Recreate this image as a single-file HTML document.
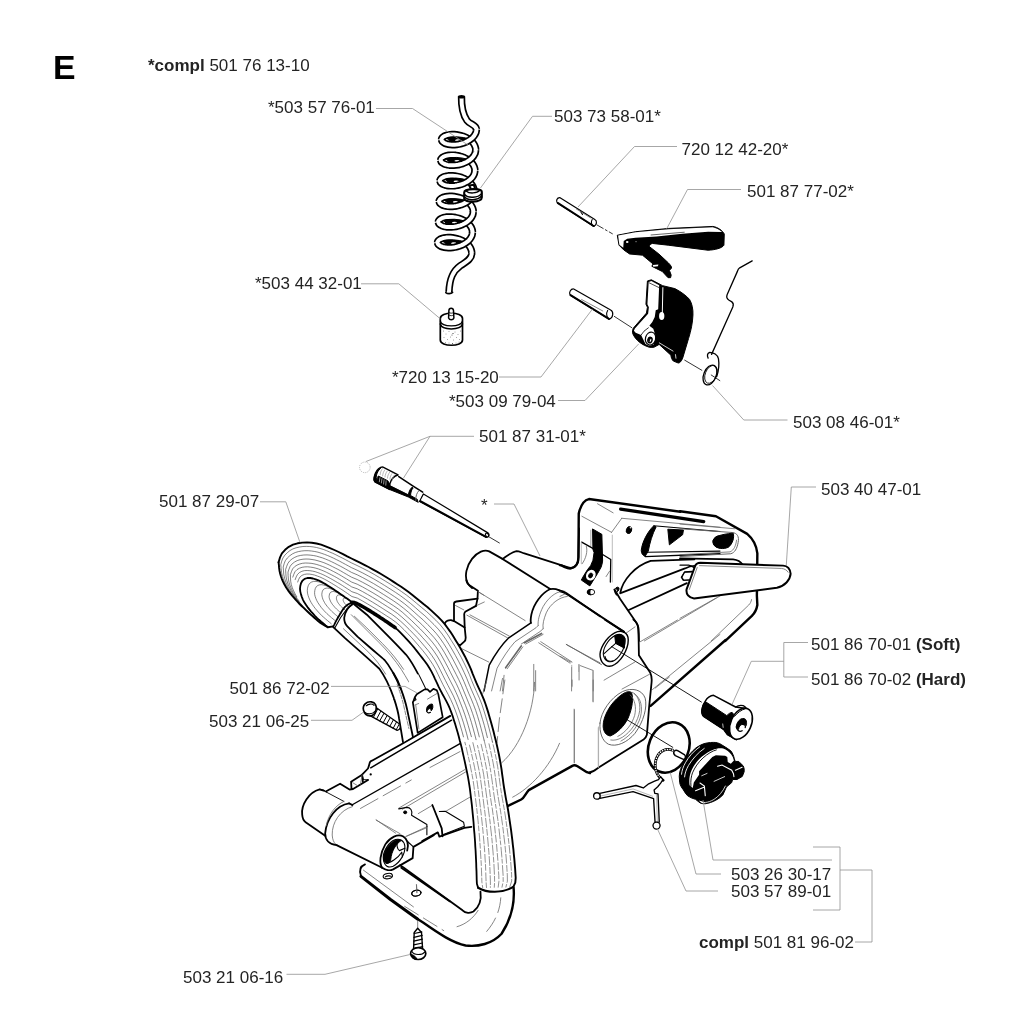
<!DOCTYPE html>
<html><head><meta charset="utf-8"><title>E</title>
<style>
html,body{margin:0;padding:0;background:#fff;}
body{width:1024px;height:1032px;overflow:hidden;position:relative;font-family:"Liberation Sans",sans-serif;}
svg{position:absolute;left:0;top:0;}
text{font-family:"Liberation Sans",sans-serif;font-size:17px;fill:#242424;}
.b{font-weight:bold;}
.ld{fill:none;stroke:#909090;stroke-width:0.8;}
path,ellipse,circle,line,polyline,polygon{vector-effect:non-scaling-stroke;}
.k{fill:none;stroke:#000;stroke-width:1.8;stroke-linecap:round;stroke-linejoin:round;}
.k1{fill:none;stroke:#000;stroke-width:1.1;stroke-linecap:round;stroke-linejoin:round;}
.t{fill:none;stroke:#666;stroke-width:0.8;stroke-linecap:round;stroke-linejoin:round;}
.f{fill:#000;stroke:#000;stroke-width:1;stroke-linejoin:round;}
.w{fill:#fff;stroke:#000;stroke-width:2;stroke-linejoin:round;stroke-linecap:round;}
.co{fill:none;stroke:#000;stroke-width:7.4;stroke-linecap:butt;stroke-linejoin:round;}
.ci{fill:none;stroke:#fff;stroke-width:4;stroke-linecap:round;stroke-linejoin:round;}
.rb{fill:none;stroke:#333;stroke-width:0.62;stroke-linecap:round;}
.w1{fill:#fff;stroke:#000;stroke-width:1.2;stroke-linejoin:round;stroke-linecap:round;}
</style></head><body>
<svg width="1024" height="1032" viewBox="0 0 1024 1032">
<!-- LABELS -->
<g id="labels" style="filter:grayscale(1)">
<text x="53" y="79.3" class="b" style="font-size:33.8px;fill:#000">E</text>
<text x="148" y="71"><tspan class="b">*compl</tspan> 501 76 13-10</text>
<text x="268" y="113">*503 57 76-01</text>
<text x="554" y="122">503 73 58-01*</text>
<text x="681.5" y="154.5">720 12 42-20*</text>
<text x="747" y="197">501 87 77-02*</text>
<text x="255" y="289">*503 44 32-01</text>
<text x="392" y="383">*720 13 15-20</text>
<text x="449" y="407">*503 09 79-04</text>
<text x="793" y="428">503 08 46-01*</text>
<text x="479" y="442">501 87 31-01*</text>
<text x="821" y="494.5">503 40 47-01</text>
<text x="159" y="507">501 87 29-07</text>
<text x="481" y="511">*</text>
<text x="811" y="650">501 86 70-01 <tspan class="b">(Soft)</tspan></text>
<text x="811" y="685">501 86 70-02 <tspan class="b">(Hard)</tspan></text>
<text x="229.5" y="693.5">501 86 72-02</text>
<text x="209" y="727">503 21 06-25</text>
<text x="731" y="880">503 26 30-17</text>
<text x="731" y="897">503 57 89-01</text>
<text x="699" y="948"><tspan class="b">compl</tspan> 501 81 96-02</text>
<text x="183" y="983">503 21 06-16</text>
</g>
<!-- PARTS -->
<g id="parts">
<g id="coil">
<path class="co" d="M441.5 139.6 L441.6 138.8 L442.1 137.9 L442.8 137.2 L443.8 136.5 L445.0 135.8 L446.5 135.3 L448.2 134.9 L450.0 134.6 L452.0 134.5 L454.2 134.5 L456.4 134.7 L458.6 135.1 L460.8 135.6 L463.0 136.2 L465.2 137.1 L467.2 138.1 L469.0 139.2 L470.7 140.5 L472.2 141.8 L473.4 143.3 L474.4 144.9 L475.1 146.5 L475.6 148.2 L475.7 149.9"/>
<path class="ci" d="M441.5 139.6 L441.6 138.8 L442.1 137.9 L442.8 137.2 L443.8 136.5 L445.0 135.8 L446.5 135.3 L448.2 134.9 L450.0 134.6 L452.0 134.5 L454.2 134.5 L456.4 134.7 L458.6 135.1 L460.8 135.6 L463.0 136.2 L465.2 137.1 L467.2 138.1 L469.0 139.2 L470.7 140.5 L472.2 141.8 L473.4 143.3 L474.4 144.9 L475.1 146.5 L475.6 148.2 L475.7 149.9"/>
<path class="co" d="M440.7 160.2 L440.8 159.4 L441.3 158.5 L442.0 157.8 L443.0 157.1 L444.2 156.4 L445.7 155.9 L447.4 155.5 L449.2 155.2 L451.2 155.1 L453.4 155.1 L455.6 155.3 L457.8 155.7 L460.0 156.2 L462.2 156.8 L464.4 157.7 L466.4 158.7 L468.2 159.8 L469.9 161.1 L471.4 162.4 L472.6 163.9 L473.6 165.5 L474.3 167.1 L474.8 168.8 L474.9 170.5"/>
<path class="ci" d="M440.7 160.2 L440.8 159.4 L441.3 158.5 L442.0 157.8 L443.0 157.1 L444.2 156.4 L445.7 155.9 L447.4 155.5 L449.2 155.2 L451.2 155.1 L453.4 155.1 L455.6 155.3 L457.8 155.7 L460.0 156.2 L462.2 156.8 L464.4 157.7 L466.4 158.7 L468.2 159.8 L469.9 161.1 L471.4 162.4 L472.6 163.9 L473.6 165.5 L474.3 167.1 L474.8 168.8 L474.9 170.5"/>
<path class="co" d="M439.9 180.8 L440.0 180.0 L440.5 179.1 L441.2 178.4 L442.2 177.7 L443.4 177.0 L444.9 176.5 L446.6 176.1 L448.4 175.8 L450.4 175.7 L452.6 175.7 L454.8 175.9 L457.0 176.3 L459.2 176.8 L461.4 177.4 L463.6 178.3 L465.6 179.3 L467.4 180.4 L469.1 181.7 L470.6 183.0 L471.8 184.5 L472.8 186.1 L473.5 187.7 L474.0 189.4 L474.1 191.1"/>
<path class="ci" d="M439.9 180.8 L440.0 180.0 L440.5 179.1 L441.2 178.4 L442.2 177.7 L443.4 177.0 L444.9 176.5 L446.6 176.1 L448.4 175.8 L450.4 175.7 L452.6 175.7 L454.8 175.9 L457.0 176.3 L459.2 176.8 L461.4 177.4 L463.6 178.3 L465.6 179.3 L467.4 180.4 L469.1 181.7 L470.6 183.0 L471.8 184.5 L472.8 186.1 L473.5 187.7 L474.0 189.4 L474.1 191.1"/>
<path class="co" d="M439.1 201.4 L439.2 200.6 L439.7 199.7 L440.4 199.0 L441.4 198.3 L442.6 197.6 L444.1 197.1 L445.8 196.7 L447.6 196.4 L449.6 196.3 L451.8 196.3 L454.0 196.5 L456.2 196.9 L458.4 197.4 L460.6 198.0 L462.8 198.9 L464.8 199.9 L466.6 201.0 L468.3 202.3 L469.8 203.6 L471.0 205.1 L472.0 206.7 L472.7 208.3 L473.2 210.0 L473.3 211.7"/>
<path class="ci" d="M439.1 201.4 L439.2 200.6 L439.7 199.7 L440.4 199.0 L441.4 198.3 L442.6 197.6 L444.1 197.1 L445.8 196.7 L447.6 196.4 L449.6 196.3 L451.8 196.3 L454.0 196.5 L456.2 196.9 L458.4 197.4 L460.6 198.0 L462.8 198.9 L464.8 199.9 L466.6 201.0 L468.3 202.3 L469.8 203.6 L471.0 205.1 L472.0 206.7 L472.7 208.3 L473.2 210.0 L473.3 211.7"/>
<path class="co" d="M438.3 222.0 L438.4 221.2 L438.9 220.3 L439.6 219.6 L440.6 218.9 L441.8 218.2 L443.3 217.7 L445.0 217.3 L446.8 217.0 L448.8 216.9 L451.0 216.9 L453.2 217.1 L455.4 217.5 L457.6 218.0 L459.8 218.6 L462.0 219.5 L464.0 220.5 L465.8 221.6 L467.5 222.9 L469.0 224.2 L470.2 225.7 L471.2 227.3 L471.9 228.9 L472.4 230.6 L472.5 232.3"/>
<path class="ci" d="M438.3 222.0 L438.4 221.2 L438.9 220.3 L439.6 219.6 L440.6 218.9 L441.8 218.2 L443.3 217.7 L445.0 217.3 L446.8 217.0 L448.8 216.9 L451.0 216.9 L453.2 217.1 L455.4 217.5 L457.6 218.0 L459.8 218.6 L462.0 219.5 L464.0 220.5 L465.8 221.6 L467.5 222.9 L469.0 224.2 L470.2 225.7 L471.2 227.3 L471.9 228.9 L472.4 230.6 L472.5 232.3"/>
<path class="co" d="M437.5 242.6 L437.6 241.8 L438.1 240.9 L438.8 240.2 L439.8 239.5 L441.0 238.8 L442.5 238.3 L444.2 237.9 L446.0 237.6 L448.0 237.5 L450.2 237.5 L452.4 237.7 L454.6 238.1 L456.8 238.6 L459.0 239.2 L461.2 240.1 L463.2 241.1 L465.0 242.2 L466.7 243.5 L468.2 244.8 L469.4 246.3 L470.4 247.9 L471.1 249.5 L471.6 251.2 L471.7 252.9"/>
<path class="ci" d="M437.5 242.6 L437.6 241.8 L438.1 240.9 L438.8 240.2 L439.8 239.5 L441.0 238.8 L442.5 238.3 L444.2 237.9 L446.0 237.6 L448.0 237.5 L450.2 237.5 L452.4 237.7 L454.6 238.1 L456.8 238.6 L459.0 239.2 L461.2 240.1 L463.2 241.1 L465.0 242.2 L466.7 243.5 L468.2 244.8 L469.4 246.3 L470.4 247.9 L471.1 249.5 L471.6 251.2 L471.7 252.9"/>
<path class="f" d="M446.8 138.1 Q456.8 135.1 469.8 139.1 Q461.8 144.1 452.8 142.6 Q448.8 141.1 446.8 138.1Z"/>
<ellipse cx="457.8" cy="140.4" rx="2.6" ry="1.1" fill="#fff"/>
<path class="f" d="M446.0 158.7 Q456.0 155.7 469.0 159.7 Q461.0 164.7 452.0 163.2 Q448.0 161.7 446.0 158.7Z"/>
<ellipse cx="457.0" cy="161.0" rx="2.6" ry="1.1" fill="#fff"/>
<path class="f" d="M445.2 179.3 Q455.2 176.3 468.2 180.3 Q460.2 185.3 451.2 183.8 Q447.2 182.3 445.2 179.3Z"/>
<ellipse cx="456.2" cy="181.6" rx="2.6" ry="1.1" fill="#fff"/>
<path class="f" d="M444.4 199.9 Q454.4 196.9 467.4 200.9 Q459.4 205.9 450.4 204.4 Q446.4 202.9 444.4 199.9Z"/>
<ellipse cx="455.4" cy="202.2" rx="2.6" ry="1.1" fill="#fff"/>
<path class="f" d="M443.6 220.5 Q453.6 217.5 466.6 221.5 Q458.6 226.5 449.6 225.0 Q445.6 223.5 443.6 220.5Z"/>
<ellipse cx="454.6" cy="222.8" rx="2.6" ry="1.1" fill="#fff"/>
<path class="f" d="M442.8 241.1 Q452.8 238.1 465.8 242.1 Q457.8 247.1 448.8 245.6 Q444.8 244.1 442.8 241.1Z"/>
<ellipse cx="453.8" cy="243.4" rx="2.6" ry="1.1" fill="#fff"/>
<path class="co" d="M471.7 252.9 C472.2 258.9 466 262 460 266 C453 271 449.5 278 449 292"/><path class="ci" d="M471.7 252.9 C472.2 258.9 466 262 460 266 C453 271 449.5 278 449 292"/>
<path class="co" d="M461.5 96.5 C461.3 106 462.5 114 467 120.5 C470.5 125 475.8 124.5 476.5 129.3"/><path class="ci" d="M461.5 96.5 C461.3 106 462.5 114 467 120.5 C470.5 125 475.8 124.5 476.5 129.3"/>
<path class="co" d="M476.5 129.3 L476.3 131.0 L475.9 132.7 L475.1 134.3 L474.1 135.9 L472.8 137.4 L471.3 138.7 L469.6 140.0 L467.7 141.1 L465.7 142.1 L463.5 143.0 L461.3 143.6 L459.0 144.2 L456.7 144.5 L454.5 144.7 L452.3 144.7 L450.3 144.6 L448.4 144.3 L446.7 143.9 L445.2 143.4 L443.9 142.7 L442.9 142.0 L442.1 141.3 L441.7 140.4 L441.5 139.6"/>
<path class="ci" d="M476.5 129.3 L476.3 131.0 L475.9 132.7 L475.1 134.3 L474.1 135.9 L472.8 137.4 L471.3 138.7 L469.6 140.0 L467.7 141.1 L465.7 142.1 L463.5 143.0 L461.3 143.6 L459.0 144.2 L456.7 144.5 L454.5 144.7 L452.3 144.7 L450.3 144.6 L448.4 144.3 L446.7 143.9 L445.2 143.4 L443.9 142.7 L442.9 142.0 L442.1 141.3 L441.7 140.4 L441.5 139.6"/>
<path class="co" d="M475.7 149.9 L475.5 151.6 L475.1 153.3 L474.3 154.9 L473.3 156.5 L472.0 158.0 L470.5 159.3 L468.8 160.6 L466.9 161.7 L464.9 162.7 L462.7 163.6 L460.5 164.2 L458.2 164.8 L455.9 165.1 L453.7 165.3 L451.5 165.3 L449.5 165.2 L447.6 164.9 L445.9 164.5 L444.4 164.0 L443.1 163.3 L442.1 162.6 L441.3 161.9 L440.9 161.0 L440.7 160.2"/>
<path class="ci" d="M475.7 149.9 L475.5 151.6 L475.1 153.3 L474.3 154.9 L473.3 156.5 L472.0 158.0 L470.5 159.3 L468.8 160.6 L466.9 161.7 L464.9 162.7 L462.7 163.6 L460.5 164.2 L458.2 164.8 L455.9 165.1 L453.7 165.3 L451.5 165.3 L449.5 165.2 L447.6 164.9 L445.9 164.5 L444.4 164.0 L443.1 163.3 L442.1 162.6 L441.3 161.9 L440.9 161.0 L440.7 160.2"/>
<path class="co" d="M474.9 170.5 L474.7 172.2 L474.3 173.9 L473.5 175.5 L472.5 177.1 L471.2 178.6 L469.7 179.9 L468.0 181.2 L466.1 182.3 L464.1 183.3 L461.9 184.2 L459.7 184.8 L457.4 185.3 L455.1 185.7 L452.9 185.9 L450.7 185.9 L448.7 185.8 L446.8 185.5 L445.1 185.1 L443.6 184.6 L442.3 183.9 L441.3 183.2 L440.5 182.5 L440.1 181.6 L439.9 180.8"/>
<path class="ci" d="M474.9 170.5 L474.7 172.2 L474.3 173.9 L473.5 175.5 L472.5 177.1 L471.2 178.6 L469.7 179.9 L468.0 181.2 L466.1 182.3 L464.1 183.3 L461.9 184.2 L459.7 184.8 L457.4 185.3 L455.1 185.7 L452.9 185.9 L450.7 185.9 L448.7 185.8 L446.8 185.5 L445.1 185.1 L443.6 184.6 L442.3 183.9 L441.3 183.2 L440.5 182.5 L440.1 181.6 L439.9 180.8"/>
<path class="co" d="M474.1 191.1 L473.9 192.8 L473.5 194.5 L472.7 196.1 L471.7 197.7 L470.4 199.2 L468.9 200.5 L467.2 201.8 L465.3 202.9 L463.3 203.9 L461.1 204.8 L458.9 205.4 L456.6 206.0 L454.3 206.3 L452.1 206.5 L449.9 206.5 L447.9 206.4 L446.0 206.1 L444.3 205.7 L442.8 205.2 L441.5 204.5 L440.5 203.8 L439.7 203.1 L439.3 202.2 L439.1 201.4"/>
<path class="ci" d="M474.1 191.1 L473.9 192.8 L473.5 194.5 L472.7 196.1 L471.7 197.7 L470.4 199.2 L468.9 200.5 L467.2 201.8 L465.3 202.9 L463.3 203.9 L461.1 204.8 L458.9 205.4 L456.6 206.0 L454.3 206.3 L452.1 206.5 L449.9 206.5 L447.9 206.4 L446.0 206.1 L444.3 205.7 L442.8 205.2 L441.5 204.5 L440.5 203.8 L439.7 203.1 L439.3 202.2 L439.1 201.4"/>
<path class="co" d="M473.3 211.7 L473.1 213.4 L472.7 215.1 L471.9 216.7 L470.9 218.3 L469.6 219.8 L468.1 221.1 L466.4 222.4 L464.5 223.5 L462.5 224.5 L460.3 225.4 L458.1 226.0 L455.8 226.6 L453.5 226.9 L451.3 227.1 L449.1 227.1 L447.1 227.0 L445.2 226.7 L443.5 226.3 L442.0 225.8 L440.7 225.1 L439.7 224.4 L438.9 223.7 L438.5 222.8 L438.3 222.0"/>
<path class="ci" d="M473.3 211.7 L473.1 213.4 L472.7 215.1 L471.9 216.7 L470.9 218.3 L469.6 219.8 L468.1 221.1 L466.4 222.4 L464.5 223.5 L462.5 224.5 L460.3 225.4 L458.1 226.0 L455.8 226.6 L453.5 226.9 L451.3 227.1 L449.1 227.1 L447.1 227.0 L445.2 226.7 L443.5 226.3 L442.0 225.8 L440.7 225.1 L439.7 224.4 L438.9 223.7 L438.5 222.8 L438.3 222.0"/>
<path class="co" d="M472.5 232.3 L472.3 234.0 L471.9 235.7 L471.1 237.3 L470.1 238.9 L468.8 240.4 L467.3 241.7 L465.6 243.0 L463.7 244.1 L461.7 245.1 L459.5 246.0 L457.3 246.6 L455.0 247.2 L452.7 247.5 L450.5 247.7 L448.3 247.7 L446.3 247.6 L444.4 247.3 L442.7 246.9 L441.2 246.4 L439.9 245.7 L438.9 245.0 L438.1 244.3 L437.7 243.4 L437.5 242.6"/>
<path class="ci" d="M472.5 232.3 L472.3 234.0 L471.9 235.7 L471.1 237.3 L470.1 238.9 L468.8 240.4 L467.3 241.7 L465.6 243.0 L463.7 244.1 L461.7 245.1 L459.5 246.0 L457.3 246.6 L455.0 247.2 L452.7 247.5 L450.5 247.7 L448.3 247.7 L446.3 247.6 L444.4 247.3 L442.7 246.9 L441.2 246.4 L439.9 245.7 L438.9 245.0 L438.1 244.3 L437.7 243.4 L437.5 242.6"/>
<path class="k" style="stroke-width:1.6" d="M445.8 292.6 C447.5 294 451 294 452.6 292.4"/>
<ellipse cx="461.5" cy="96.8" rx="3.6" ry="1.8" fill="#000"/>
<g id="fitting">
<path class="w1" d="M469.5 185.5 L472 192 L476 191 L473.8 184.8 Z" style="stroke-width:2"/>
<path class="w" style="stroke-width:2.1" d="M464.2 192.5 C464.2 188.5 481.6 187.8 481.8 191.8 L481.8 197.5 C481.6 202.5 464.4 203.2 464.2 198.5 Z"/>
<path class="k1" style="stroke-width:1.4" d="M464.6 194.5 C468 198.6 478 198 481.6 193.6 M464.6 197 C468 201 478 200.4 481.6 196"/>
<path class="k1" style="stroke-width:1.4" d="M466.5 191.2 C469 193.8 477 193.4 479.6 190.6"/>
</g>
</g>
<g id="filter">
<path class="w" style="stroke-width:1.7" d="M440.3 318.5 C440.3 311.5 462.5 311.5 462.5 318.5 L462.5 340 C462.5 347 440.3 347 440.3 340 Z"/>
<path class="k1" d="M440.3 321 C442 327.5 460.5 327.5 462.5 321"/>
<path class="k" style="stroke-width:1.5" d="M440.3 324 C442 330.5 460.5 330.5 462.5 324"/>
<path class="w1" style="stroke-width:1.5" d="M448.6 318 L448.9 310.5 C449 307.5 453.3 307.5 453.5 310.5 L453.9 318 C453 320.3 449.5 320.3 448.6 318Z"/>
<path class="k1" style="stroke-width:0.8" d="M449 312.5 C450 313.5 452.5 313.5 453.5 312.5 M448.8 315 C450 316 452.5 316 453.7 315"/>
<g fill="#333">
<circle cx="443.5" cy="331" r=".4"/><circle cx="446" cy="334" r=".4"/><circle cx="449" cy="331.5" r=".4"/><circle cx="452" cy="335" r=".5"/><circle cx="455" cy="332" r=".4"/><circle cx="458" cy="334.5" r=".4"/><circle cx="460.5" cy="331" r=".4"/>
<circle cx="444" cy="337.5" r=".4"/><circle cx="447.5" cy="339.5" r=".4"/><circle cx="450.5" cy="337" r=".4"/><circle cx="453.5" cy="340" r=".4"/><circle cx="456.5" cy="337.5" r=".4"/><circle cx="459.5" cy="339.5" r=".4"/>
<circle cx="445.5" cy="342.5" r=".4"/><circle cx="449" cy="343" r=".4"/><circle cx="452.5" cy="343.5" r=".5"/><circle cx="456" cy="343" r=".4"/><circle cx="459" cy="342" r=".4"/><circle cx="453" cy="333.5" r=".6"/>
</g>
</g>
<g id="rear_a" transform="translate(560,480) scale(0.15625)">
<!-- outer outline -->
<path class="k" style="stroke-width:2.4" d="M0 545 C25 550 45 570 70 566 C100 560 118 530 118 495 L120 215 C130 170 150 130 185 122 L770 203"/>
<!-- top facets -->
<path class="t" d="M140 232 L330 335 M240 152 L340 210 M395 245 L330 335 M395 245 L1024 302"/>
<path class="k" style="stroke-width:3.2" d="M388 186 L920 266"/>
<!-- black vertical slot -->
<!-- window -->
<path class="f" d="M600 293 C560 330 525 400 520 450 C520 470 530 485 545 488 L565 455 C575 400 590 350 615 300 Z"/>
<path class="k1" d="M600 293 L1024 330"/>
<path class="k1" style="stroke-width:1.3" d="M545 490 L1024 472"/>
<path class="k1" d="M560 462 L1024 455"/>
<path class="f" d="M690 315 L790 320 L785 350 L700 415 Z"/>
<ellipse cx="1020" cy="395" rx="40" ry="38" class="f"/>
<!-- arch -->
<path class="k" d="M385 725 C400 640 480 550 580 518 L860 508"/>
<path class="k" d="M392 722 L800 566 C820 556 840 550 860 550"/>
<path class="k" d="M440 832 L812 660"/>
<!-- lever stub -->
<path class="k1" d="M845 585 L798 588 L780 622 L792 642 L828 640"/>
<!-- lever left end -->
<!-- plate right edge -->
<path class="k" d="M350 702 L385 762 L490 915 C500 930 505 950 505 1030"/>
<!-- body top edge continuing -->
<path class="k" d="M0 712 C20 715 35 725 50 735 L410 972"/>
<path class="t" d="M0 745 L40 725 M420 982 L480 940 M540 1030 L1024 742"/>
</g>
<g id="rear_slot" transform="translate(572,520) scale(0.07752)">
<path class="f" d="M265 115 L385 185 L395 530 C390 560 385 585 375 610 L330 690 L230 850 L120 775 L150 720 L200 640 L240 590 L270 520 L285 420 L270 380 Z"/>
<ellipse cx="243" cy="712" rx="60" ry="72" fill="#fff" transform="rotate(28 243 712)"/>
<ellipse cx="240" cy="716" rx="24" ry="33" class="f" transform="rotate(28 240 716)"/>
<path fill="none" stroke="#bbb" stroke-width="1.4" d="M242 125 L242 340"/>
<path class="k1" style="stroke-width:1.3" d="M125 285 L275 370 M395 445 L500 510 L495 800"/>
<path class="t" style="stroke:#aaa" d="M120 290 L120 560 M520 195 L520 800"/>
<path class="t" d="M185 340 C205 400 180 500 130 565 M440 730 L485 660"/>
<ellipse cx="735" cy="130" rx="34" ry="46" class="f" transform="rotate(20 735 130)"/>
<ellipse cx="755" cy="100" rx="12" ry="8" fill="#fff" transform="rotate(20 755 100)"/>
<ellipse cx="245" cy="930" rx="48" ry="35" fill="#fff" stroke="#000" stroke-width="0.9"/>
<path class="f" d="M245 895 C215 895 197 912 197 930 C197 948 215 965 245 965 C225 950 225 910 245 895Z"/>
<path class="f" d="M560 885 C570 865 595 860 605 875 C610 895 600 915 585 925 C590 905 580 890 560 885Z"/>
<path class="k" style="stroke-width:1.5" d="M545 895 C550 920 560 945 575 965"/>
</g>
<g id="rear_b" transform="translate(680,480) scale(0.15625)">
<path class="k" style="stroke-width:2.4" d="M0 200 L230 232 L430 345 C465 375 490 420 495 470 L492 740 L495 800 C490 830 480 850 460 870 L290 1030"/>
<path class="t" d="M0 282 L350 312"/>
<!-- window right end -->
<path class="t" style="stroke-width:1" d="M0 312 L335 336 C365 340 380 360 372 400 C365 440 350 465 325 472 L0 490"/>
<path class="t" d="M0 478 L320 460 C345 450 358 420 362 385"/>
<path class="f" d="M212 385 C225 360 260 348 340 340 C350 370 335 410 310 430 C280 445 240 440 220 420 C212 410 208 395 212 385Z"/>
<!-- arch top -->
<path class="k" d="M0 502 L340 508 C370 512 390 525 400 540"/>
<path class="k1" d="M0 545 L55 545 C70 548 80 552 88 560"/>
<!-- lever -->
<path class="w" d="M130 530 C110 530 100 540 95 555 L42 700 C38 730 55 755 90 758 L620 690 C670 680 705 640 708 600 C705 570 690 550 660 548 Z"/>
<path class="t" d="M125 548 L650 566 C670 568 685 578 692 590 M110 560 L60 700"/>
<path class="k1" d="M82 588 L28 590 L8 622 L20 642 L58 640"/>
<!-- inner thin lines -->
<path class="t" d="M0 885 L232 755 M200 1030 L440 800 C450 790 455 780 458 765"/>
</g>
<g id="body_a" transform="translate(440,530) scale(0.15625)">
<!-- front boss cylinder -->
<path class="k" d="M705 378 L400 185 L315 137 C285 122 240 140 205 185 C170 230 155 295 175 335 C185 355 195 365 205 372"/>
<path class="t" d="M245 395 L545 580"/>
<!-- rear plate outline going behind -->
<path class="k" d="M400 185 C430 165 460 140 490 135 C510 135 520 145 540 150 L815 238 C850 250 880 235 885 195 L890 -10"/>
<!-- collar -->
<path class="k" d="M760 385 C740 375 720 375 705 378 C650 405 600 470 585 540 C580 565 578 580 582 595"/>
<path class="t" d="M800 392 C760 385 700 420 660 490 C635 540 625 580 628 612"/>
<path class="t" d="M815 425 C760 430 705 475 680 530 C665 570 655 600 660 632"/>
<!-- body top edge -->
<path class="k" d="M760 385 C780 388 795 395 810 405 L1024 552"/>
<!-- left block -->
<!-- front face outline -->
<path class="k" style="stroke-width:1.5" d="M582 595 L440 690 C400 730 350 800 315 865 L282 1030"/>
<path class="t" d="M628 612 L615 625 L480 715 C440 760 400 820 365 885 L330 1030"/>
<path class="t" d="M660 632 L640 650 L520 730 M400 950 L385 1030"/>
<path class="t" style="stroke-width:1.6" d="M650 662 L540 722 M520 742 L420 882"/>
<path class="t" d="M660 668 L548 730 M530 748 L430 888"/>
<!-- top surface lines -->
<path class="t" d="M172 545 L432 690 M192 543 L445 680 M140 760 L312 845"/>
<path class="t" d="M632 722 L832 852 M645 715 L845 845 M812 735 L1024 850"/>
<path class="t" d="M600 860 L600 1030 M612 900 L612 1030 M842 880 L842 1030 M890 862 L890 960 M980 900 L980 1030 M410 930 L400 1030"/>
</g>
<g id="leftblock">
<path class="k" d="M466.2 580 C467 583 468 584.5 469.1 585 L477.9 590.8 L477.5 598.6 L476 605.9"/>
<path class="k" d="M477.5 598.6 L456.4 601.5 C454.8 601.8 454 602.5 454 603.8 L454 621.1"/>
<path class="k" d="M476 605.9 L465.2 611.8 C464.5 612.5 464.2 613.2 464.2 614.2 L464.7 627.5 L465.7 637.7 C465.7 640 465 641 464.2 641.6 L460.3 645.1 L458.4 644.6"/>
<path class="k" d="M444.7 623.5 C445.5 622 446.5 621 447.6 620.6 C449 620 450 620 451 620.1 L454 621.1 L464.7 627.5"/>
<path class="t" d="M455.5 605.5 L463.8 609.9 M478 591.7 L483.8 595.2 M477 605.4 L484.3 602"/>
</g>
<g id="body_b" transform="translate(560,620) scale(0.15625)">
<path class="k" d="M288 -2 L410 76"/>
<!-- right face outline -->
<path class="k" d="M470 -2 C490 15 500 30 502 50 L505 225 L578 338 C586 355 588 380 586 400 L570 560 L556 735 C552 750 545 758 535 765 L250 942 C230 955 215 975 190 974"/>
<!-- small tube -->
<path class="k" style="stroke-width:1.4" d="M257 235 C250 190 290 115 350 82 C390 62 425 75 435 110 C445 160 410 245 350 285 C310 310 265 290 257 235Z" fill="#fff"/>
<path class="k1" d="M278 225 C272 185 305 125 355 98 C385 85 410 95 416 120 C422 160 395 225 350 258 C320 278 285 265 278 225Z"/>
<path class="f" d="M350 100 C380 88 408 95 415 120 L412 180 L356 150 Z"/>
<path class="k1" d="M356 150 L282 215"/>
<path class="k1" d="M288 232 C290 255 310 270 335 262"/>
<!-- lines -->
<path class="t" style="stroke-width:1" d="M40 156 L265 285"/>
<path class="t" d="M0 232 L70 270 M130 292 L210 322 M397 442 L573 347"/>
<path class="t" style="stroke:#999" d="M75 290 L75 430 M210 330 L210 520 M120 285 L120 330 M90 570 L90 912 M245 690 L245 940"/>
<path class="t" d="M282 385 L479 269"/>
<!-- big hole -->
<path class="t" style="stroke-width:1" d="M256 660 C262 590 320 500 400 458 C460 430 525 445 545 500 C560 560 535 650 480 725 C430 785 360 815 310 795 C270 775 252 720 256 660Z"/>
<path class="f" d="M276 680 C275 620 320 535 385 485 C420 458 445 452 458 465 C470 500 465 560 435 630 C410 680 365 725 322 742 C295 740 278 715 276 680Z"/>
<path class="t" d="M462 462 C495 480 515 520 510 580 C500 650 455 715 400 750 C370 768 345 772 325 768 M475 470 C520 500 530 560 515 620 C495 690 445 745 390 775 M450 480 C480 510 490 560 478 610 C460 670 420 720 370 745"/>
<!-- rear handle bottom edge -->
<path class="k" style="stroke-width:2.4" d="M1060 128 L580 550"/>
<path class="t" d="M512 140 L752 0 M592 445 L1024 92 M610 435 L700 365"/>
<!-- axis lines -->
<path class="k1" style="stroke-width:0.9" d="M330 170 L905 525 M432 640 L722 815"/>
</g>
<g id="body_c" transform="translate(440,680) scale(0.15625)">
<path class="k" style="stroke-width:2.4" d="M435 806 L520 765 C540 755 548 725 568 705 L850 548 C860 542 868 545 880 552 L940 590 L960 596"/>
<path class="t" d="M605 15 C600 200 520 420 395 530 M765 405 C700 560 580 690 465 750"/>
<path class="t" d="M860 190 L860 530 M845 0 L845 40 M980 0 L980 140"/>
<path class="t" style="stroke:#aaa" d="M1015 300 L1015 560"/>
<path class="t" stroke-dasharray="14 5" d="M300 0 L270 100 M415 0 L380 250 L365 400"/>
</g>
<g id="lowerarm" transform="translate(290,760) scale(0.15625)">
<!-- left boss capsule -->
<path class="k1" style="stroke-width:0.9" d="M345 265 L215 196"/>
<path class="k" d="M215 196 L190 188 C120 205 70 290 78 350 C80 375 88 390 100 398 L225 485"/>
<path class="k1" d="M190 188 C215 190 230 200 235 205"/>
<!-- collar -->
<path class="k" d="M378 278 C300 290 235 370 225 470 C225 510 250 540 298 545"/>
<path class="t" d="M400 298 C320 320 268 400 270 480 C272 510 280 528 292 538"/>
<path class="t" d="M345 265 C290 290 245 350 232 420"/>
<!-- step behind boss -->
<!-- arm top edge -->
<path class="k" d="M378 278 L400 288"/>

<!-- lower edge -->
<path class="k" d="M298 545 L590 690"/>
<!-- hole boss -->
<path class="k" d="M590 690 C570 660 575 600 610 540 C640 495 690 470 725 490 C750 505 760 540 750 580"/>
<path class="k" d="M590 690 C610 705 640 710 660 700 L785 628 L790 556 L920 482"/>
<path class="k1" d="M750 520 L790 556"/>
<path class="t" d="M552 385 L705 472"/>
<path class="k1" d="M598 640 C590 600 620 540 660 515 C700 495 730 515 735 550 C740 600 700 660 660 680 C630 692 605 680 598 640Z" fill="#fff"/>
<path class="f" d="M600 645 C592 600 622 545 665 518 C682 508 700 508 712 515 C675 540 650 585 645 635 C640 665 615 672 600 645Z"/>
<path class="k1" d="M690 515 C680 540 685 570 700 580 L735 565"/>
<path class="k1" d="M615 660 C640 660 690 630 715 590 L720 620"/>
<!-- upper tab and notch -->
<ellipse cx="737" cy="335" rx="10" ry="9" class="f"/>
<path class="t" d="M740 490 L880 425"/>
</g>
<g id="botplate" transform="translate(290,760) scale(0.15625)">
<path class="k" d="M480 668 C450 680 440 705 455 745"/>
<path class="k" d="M712 690 L1024 905"/>
<path class="t" d="M470 705 L790 940"/>
<ellipse cx="626" cy="743" rx="30" ry="17" class="k1" transform="rotate(-10 626 743)"/>
<path class="k1" d="M610 748 C620 740 640 740 648 745"/>
<ellipse cx="808" cy="852" rx="30" ry="19" class="k1" transform="rotate(-10 808 852)"/>
<path class="t" d="M810 800 L812 850"/>
</g>
<g id="armback" transform="translate(330,680) scale(0.15625)">
<!-- back top edges -->
<path class="k" style="stroke-width:1.4" d="M140 800 L835 405"/>
<path class="t" stroke-dasharray="20 6" d="M195 822 L520 640"/>
<path class="t" d="M640 560 L832 458 M440 820 L862 574 M462 828 L872 586 M745 838 L895 750 M565 855 L655 802"/>
<!-- tab + notch -->
<path class="k1" d="M440 825 L490 815 C515 815 530 835 522 865 L620 925 L620 990"/>
<path class="k" d="M655 800 L715 950 L720 1000"/>
<path class="k1" d="M700 842 L738 840 L855 910 L860 936 L722 990"/>
<path class="t" d="M295 895 L420 980 M490 1000 L620 945"/>
<path class="k" d="M590 1030 L690 975 L700 1002 L860 946 L905 940"/>
</g>
<g id="armback2">
<path class="k" d="M326.25 791.25 L340.1 783.7 L349.5 789.6 L353 789 L368 779.9"/>
<path class="k" d="M351.5 788.6 L351.1 781.7 L362.1 774.7 L362.9 781.9"/>
<path class="k" d="M362.1 774.7 L368 768.5 C369 766 369.3 764 369.9 762.3 C370.5 761.3 371 761 371.9 760.7 L400.1 745 L450.3 715.9"/>
<path class="k" style="stroke-width:1.5" d="M370.7 767.8 L408.8 745.4 L451.6 720.2"/>
<path class="k1" d="M362.1 774.7 L363.3 779.5 L368 779.9"/>
<path class="t" d="M352.7 782.7 L357.8 785.8 M362.1 774.8 L360.5 784.2"/>
<circle cx="370.7" cy="774.4" r="1.15" fill="#000"/>
</g>
<g id="screw25" transform="translate(330,680) scale(0.15625)">
<path class="w1" style="stroke-width:1.3" d="M285 170 L450 285 C458 295 450 318 430 322 L250 225 Z"/>
<path class="k1" style="stroke-width:1" d="M305 186 L278 238 M325 200 L298 250 M345 214 L318 262 M365 228 L340 274 M385 242 L360 286 M405 256 L382 298 M425 270 L404 310 M442 284 L424 318"/>
<path class="w" style="stroke-width:1.7" d="M215 195 C205 160 235 135 265 140 C290 145 300 165 295 190 C290 215 275 230 255 230 C235 228 220 215 215 195Z"/>
<path class="k1" d="M222 205 C240 222 270 220 288 200 M232 165 C245 152 270 150 282 162"/>
</g>
<g id="ubend" transform="translate(400,790) scale(0.15625)">
<path class="k" style="stroke-width:2.4" d="M727 625 C735 720 715 820 650 920 C590 985 500 1005 420 995 C340 980 250 920 150 850 L110 824"/>
<path class="k" style="stroke-width:3" d="M112 826 L-60.8 700.8 L-250 553"/>
<path class="k" d="M515 650 C522 700 510 745 470 778 C450 790 420 790 400 770 L20 495 L0 482"/>
<path class="t" d="M365 875 C420 860 470 820 500 770"/>
<path class="t" stroke-dasharray="16 6" d="M555 905 C610 840 640 770 645 690"/>
<path class="t" stroke-dasharray="16 6" d="M30 745 L280 900"/>
<ellipse cx="105" cy="660" rx="30" ry="18" class="k1" transform="rotate(-12 105 660)" style="stroke-width:0.9"/>
<path class="t" d="M105 605 L108 655"/>
</g>
<g id="innerbar" transform="translate(270,535) scale(0.15625)">
<!-- white fill to occlude -->
<path d="M405 590 L480 660 L560 730 L640 800 L700 870 L740 940 L770 1030 L1000 1030 L975 980 L930 900 L870 800 L800 700 L720 610 L620 510 L540 445 L525 432 Z" fill="#fff" stroke="none"/>
<!-- left edge -->
<path class="k" d="M405 590 L480 660 L560 730 C600 765 650 810 700 856 C725 890 760 950 795 1050"/>
<!-- slot left edge (thick) -->
<path class="k" d="M530 440 C500 460 480 490 475 530 C474 555 480 570 495 585 L560 650 L640 720 C680 755 712 780 733 800 C760 830 800 900 839 988 L877 1113"/>
<!-- thin inner -->
<path class="t" d="M520 510 L600 590 L700 690 C750 740 800 800 840 860 C875 915 900 960 920 1000"/>
<path class="t" d="M540 520 L620 595 L720 695 C770 745 815 800 855 860"/>
<path class="t" d="M470 600 L545 670 L620 740 C670 785 710 840 740 890"/>
<!-- right edge -->
<path class="k" d="M540 445 L620 510 L720 610 C760 650 810 700 870 765 C900 800 950 890 996 988"/>
</g>
<g id="innerbar2">
<path d="M394 699 L403 742.2 L417.7 733 L412.8 702 L425.6 689.4 L418 674 L401 689 Z" fill="#fff" stroke="none"/>
<path class="k" d="M394.2 699.1 C396.5 706 398.5 714 399.1 718.7 L403 742.2"/>
<path class="k" d="M393.3 672.7 C396.5 677.5 399 683 401.1 689.4 C403.5 696 405.5 702 407 708.9 L412.8 736.3"/>
<path class="t" stroke-dasharray="4 1.5" d="M397.2 684.5 C400 692 402.5 700 404 707 L408.9 728.5"/>
</g>
<g id="bracket">
<path class="w" style="stroke-width:1.7" d="M412.8 702.1 L413.3 701.6 L414.8 697.2 L416.8 694.2 L424.6 689.4 L427.5 689.4 L430 691.8 L433.4 688.9 L436.8 690.3 L438.3 694.2 L442.7 717.2 L417.7 732.9 Z"/>
<path class="t" d="M415.8 705.5 L418.9 729 M414.8 705 L418.7 703.5 M427.5 699.1 L437.3 693.3"/>
<path class="k1" d="M413.5 701 L416 699.8 L415 697.5"/>
<path class="f" d="M426.8 711.5 C425.8 707.5 428 704.2 432.2 704 C433.4 706 433 709 431.2 710.8 C430.8 708.3 429 707.2 426.8 711.5Z"/>
<path class="k1" d="M426.8 711.5 C427.5 713 429 713.3 430.5 712.3"/>
</g>
<g id="handle">
<path d="M513.3 886.9 L515.5 881.4 L515.6 875.5 L515.2 869.5 L514.7 863.6 L514.2 857.6 L513.6 851.7 L513.0 845.8 L512.3 839.8 L511.5 833.9 L510.7 828.0 L509.9 822.1 L509.0 816.2 L508.1 810.3 L507.0 804.5 L505.9 798.6 L504.9 792.7 L503.9 786.8 L503.1 780.9 L502.3 775.0 L501.5 769.1 L500.5 763.2 L499.5 757.4 L498.3 751.5 L497.0 745.7 L495.6 739.9 L494.2 734.1 L492.7 728.4 L491.1 722.6 L489.5 716.9 L487.8 711.1 L486.0 705.5 L484.0 699.9 L481.7 694.4 L479.2 688.9 L476.7 683.5 L474.4 678.0 L472.2 672.5 L469.9 667.0 L467.4 661.6 L464.8 656.2 L462.0 651.0 L459.0 645.8 L455.9 640.7 L452.8 635.6 L449.5 630.6 L446.0 625.8 L442.3 621.1 L438.1 616.9 L433.8 612.8 L429.3 608.8 L424.7 605.0 L420.1 601.3 L415.5 597.5 L410.8 593.8 L406.1 590.2 L401.2 586.8 L396.2 583.5 L391.2 580.3 L386.1 577.1 L381.0 574.0 L375.9 571.1 L370.6 568.2 L365.4 565.4 L360.0 562.7 L354.7 560.1 L349.3 557.4 L344.0 554.7 L338.7 552.0 L333.3 549.5 L327.8 547.2 L322.2 545.1 L316.5 543.5 L310.6 542.6 L304.7 542.4 L298.7 543.1 L293.0 544.7 L287.8 547.5 L283.4 551.6 L280.3 556.6 L278.6 562.3 L279.0 566.5 L279.5 570.7 L280.5 574.8 L281.8 578.8 L283.5 582.7 L285.5 586.4 L287.8 590.0 L290.3 593.4 L293.0 596.7 L295.8 599.9 L298.7 603.0 L301.6 606.0 L304.7 608.9 L307.7 611.8 L310.8 614.7 L314.0 617.5 L317.2 620.3 L320.5 622.9 L324.1 625.2 L327.8 627.2 L333.3 626.4 L338.8 616.2 L345.0 606.9 L352.0 602.2 L357.3 603.7 L362.1 606.3 L366.9 609.1 L371.6 612.0 L376.3 614.9 L380.9 617.9 L385.5 620.9 L390.2 623.9 L394.6 627.2 L398.7 630.9 L402.6 634.8 L406.4 638.8 L410.1 642.9 L413.7 647.1 L417.1 651.4 L420.5 655.7 L423.9 660.1 L427.2 664.6 L430.1 669.2 L432.8 674.1 L435.1 679.1 L437.5 684.1 L439.8 689.1 L442.4 694.0 L445.0 698.8 L447.6 703.7 L449.9 708.7 L451.9 713.9 L453.6 719.1 L455.3 724.4 L456.8 729.7 L458.3 735.0 L459.7 740.3 L461.1 745.7 L462.4 751.0 L463.6 756.4 L464.8 761.8 L465.9 767.2 L467.1 772.6 L468.1 778.0 L469.1 783.4 L469.9 788.9 L470.6 794.4 L471.2 799.9 L471.9 805.4 L472.4 810.8 L473.0 816.3 L473.5 821.8 L473.9 827.3 L474.4 832.8 L474.8 838.3 L475.1 843.8 L475.5 849.4 L475.8 854.9 L476.0 860.4 L476.3 865.9 L476.5 871.4 L476.6 876.9 L476.8 882.4 L478.1 887.7Z" fill="#fff" stroke="none"/>
<path class="rb" style="stroke:#444;stroke-width:0.58" stroke-dasharray="8 2 5 2" stroke-dashoffset="0.0" d="M509.8 887.0 L511.7 881.0 L511.6 874.6 L511.2 868.2 L510.7 861.8 L510.1 855.4 L509.5 849.0 L508.8 842.6 L508.1 836.2 L507.3 829.9 L506.4 823.5 L505.5 817.1 L504.5 810.8 L503.4 804.5 L502.3 798.2 L501.2 791.8 L500.3 785.5 L499.4 779.1 L498.6 772.7 L497.6 766.4 L496.5 760.1 L495.2 753.8 L493.8 747.5 L492.3 741.3"/>
<path class="rb" d="M492.3 741.3 L490.8 735.0 L489.2 728.8 L487.5 722.6 L485.7 716.4 L483.8 710.3 L481.8 704.2 L479.4 698.2 L476.8 692.4 L474.2 686.5 L471.7 680.6 L469.4 674.6 L466.8 668.7 L464.0 662.9 L461.1 657.2 L458.0 651.6 L454.8 646.0 L451.4 640.6 L448.0 635.1 L444.3 629.9 L440.3 624.9 L435.8 620.2 L431.2 615.8 L426.5 611.5 L421.5 607.4 L416.6 603.3 L411.7 599.2 L406.6 595.2 L401.4 591.5 L396.1 587.9 L390.7 584.4 L385.2 581.0 L379.7 577.7 L374.2 574.4 L368.6 571.3 L362.9 568.4 L357.1 565.5 L351.3 562.8 L348.3 561.2 L345.2 559.5 L342.1 557.9 L339.0 556.4 L335.9 554.8 L332.8 553.3 L329.6 552.0 L326.4 550.6 L323.2 549.4 L319.9 548.4 L316.5 547.5 L313.1 546.9 L309.7 546.5 L306.3 546.4 L302.9 546.5 L299.5 547.0 L296.1 547.8 L292.9 548.9 L289.9 550.6 L287.3 552.7 L284.9 555.1 L282.9 558.0 L281.7 561.2 L280.8 564.6 L281.1 568.6 L281.6 572.7 L282.5 576.6 L283.8 580.5 L285.4 584.2 L287.3 587.8 L289.5 591.2 L291.9 594.5 L294.4 597.7 L297.1 600.8 L299.9 603.8 L302.7 606.7 L305.6 609.5 L308.6 612.3 L311.5 615.1 L314.6 617.8"/>
<path class="rb" style="stroke:#444;stroke-width:0.58" stroke-dasharray="6 2.2 9 2" stroke-dashoffset="3.3" d="M505.9 887.1 L507.4 881.2 L507.3 874.9 L506.9 868.6 L506.5 862.3 L506.0 856.0 L505.4 849.7 L504.8 843.4 L504.0 837.2 L503.3 830.9 L502.5 824.6 L501.6 818.4 L500.7 812.1 L499.7 805.9 L498.6 799.7 L497.6 793.5 L496.7 787.2 L495.9 781.0 L495.0 774.7 L494.1 768.5 L493.0 762.3 L491.7 756.1 L490.4 749.9 L489.0 743.8"/>
<path class="rb" d="M487.4 737.6 L485.9 731.5 L484.3 725.4 L482.5 719.3 L480.7 713.3 L478.7 707.3 L476.5 701.4 L474.0 695.6 L471.5 689.9 L469.0 684.0 L466.7 678.2 L464.1 672.4 L461.4 666.7 L458.5 661.1 L455.5 655.6 L452.4 650.1 L449.2 644.7 L445.8 639.3 L442.2 634.1 L438.3 629.2 L434.0 624.6 L429.5 620.2 L424.9 615.8 L420.1 611.8 L415.4 607.6 L410.6 603.5 L405.7 599.6 L400.6 595.8 L395.4 592.3 L390.1 588.9 L384.7 585.5 L379.3 582.2 L373.9 579.0 L368.4 576.0 L362.8 573.0 L357.1 570.2 L351.4 567.6 L348.5 566.0 L345.5 564.4 L342.6 562.8 L339.6 561.2 L336.6 559.7 L333.6 558.2 L330.6 556.8 L327.5 555.5 L324.4 554.3 L321.2 553.2 L318.0 552.2 L314.8 551.5 L311.5 551.0 L308.2 550.7 L304.9 550.7 L301.6 551.0 L298.4 551.6 L295.3 552.5 L292.4 553.9 L289.7 555.8 L287.3 558.0 L285.3 560.7 L284.1 563.8 L283.2 567.1 L283.5 570.9 L283.8 574.8 L284.7 578.6 L285.9 582.3 L287.4 585.9 L289.2 589.3 L291.3 592.6 L293.6 595.8 L296.0 598.8 L298.5 601.8 L301.2 604.7 L303.9 607.4 L306.6 610.2 L309.5 612.9"/>
<path class="rb" style="stroke:#444;stroke-width:0.58" stroke-dasharray="10 2.4 4 2" stroke-dashoffset="6.6" d="M502.0 887.2 L503.2 881.4 L503.1 875.2 L502.7 869.0 L502.3 862.8 L501.8 856.6 L501.3 850.4 L500.7 844.3 L500.0 838.1 L499.3 831.9 L498.6 825.8 L497.8 819.6 L496.9 813.5 L496.0 807.4 L495.0 801.3 L494.0 795.1 L493.2 789.0 L492.4 782.8 L491.5 776.7 L490.6 770.6 L489.5 764.5 L488.3 758.4 L487.0 752.3 L485.6 746.3 L484.1 740.2"/>
<path class="rb" d="M484.1 740.2 L482.6 734.2 L481.0 728.2 L479.4 722.3 L477.6 716.3 L475.7 710.4 L473.5 704.6 L471.2 698.9 L468.7 693.2 L466.4 687.5 L464.0 681.7 L461.5 676.1 L458.7 670.5 L455.9 665.0 L453.0 659.5 L450.0 654.1 L446.9 648.7 L443.6 643.5 L440.1 638.4 L436.3 633.5 L432.1 628.9 L427.7 624.5 L423.4 620.2 L418.7 616.1 L414.1 612.0 L409.5 607.9 L404.7 603.9 L399.7 600.2 L394.6 596.7 L389.4 593.3 L384.2 590.0 L378.9 586.8 L373.6 583.6 L368.2 580.6 L362.7 577.6 L357.2 574.8 L351.5 572.4 L348.7 570.8 L345.8 569.2 L343.0 567.6 L340.2 566.1 L337.3 564.6 L334.4 563.1 L331.5 561.7 L328.5 560.3 L325.6 559.1 L322.5 557.9 L319.5 557.0 L316.4 556.1 L313.3 555.5 L310.1 555.1 L307.0 554.9 L303.8 555.0 L300.7 555.4 L297.7 556.1 L294.8 557.3 L292.1 558.9 L289.7 560.9 L287.8 563.5 L286.6 566.5 L285.6 569.6 L285.8 573.3 L286.1 577.0 L286.9 580.6 L288.0 584.1 L289.5 587.5 L291.2 590.8 L293.1 594.0 L295.3 597.0 L297.6 599.9 L300.0 602.8 L302.5 605.5"/>
<path class="rb" style="stroke:#444;stroke-width:0.58" stroke-dasharray="7 2 7 2.4" stroke-dashoffset="9.9" d="M498.2 887.2 L498.9 881.5 L498.8 875.5 L498.4 869.4 L498.1 863.3 L497.6 857.2 L497.1 851.2 L496.6 845.1 L496.0 839.0 L495.3 833.0 L494.7 826.9 L493.9 820.9 L493.1 814.8 L492.3 808.8 L491.3 802.8 L490.4 796.8 L489.6 790.7 L488.8 784.7 L488.0 778.7 L487.1 772.6 L486.1 766.6 L484.9 760.7 L483.6 754.7 L482.2 748.8 L480.8 742.9"/>
<path class="rb" d="M479.3 736.9 L477.8 731.1 L476.2 725.2 L474.5 719.3 L472.6 713.5 L470.6 707.8 L468.3 702.2 L466.0 696.5 L463.7 690.9 L461.4 685.3 L458.8 679.7 L456.1 674.3 L453.3 668.9 L450.5 663.5 L447.6 658.2 L444.6 652.8 L441.4 647.6 L438.0 642.6 L434.3 637.8 L430.2 633.3 L426.0 628.9 L421.8 624.5 L417.3 620.4 L412.9 616.3 L408.4 612.2 L403.7 608.3 L398.9 604.6 L393.9 601.1 L388.8 597.8 L383.6 594.5 L378.5 591.3 L373.2 588.2 L368.0 585.2 L362.6 582.3 L357.2 579.5 L351.6 577.2 L348.9 575.7 L346.2 574.1 L343.4 572.5 L340.7 570.9 L338.0 569.4 L335.2 568.0 L332.4 566.6 L329.6 565.2 L326.8 563.9 L323.9 562.7 L321.0 561.7 L318.0 560.8 L315.0 560.0 L312.0 559.5 L309.0 559.1 L306.0 559.0 L303.0 559.2 L300.1 559.7 L297.2 560.6 L294.6 562.0 L292.2 563.8 L290.2 566.2 L289.0 569.1 L288.0 572.1 L288.1 575.6 L288.4 579.1 L289.1 582.6 L290.2 585.9 L291.5 589.2 L293.1 592.4 L295.0 595.4 L297.0 598.3 L299.2 601.1"/>
<path class="rb" style="stroke:#444;stroke-width:0.58" stroke-dasharray="5 2 10 2.2" stroke-dashoffset="13.2" d="M494.3 887.3 L494.6 881.7 L494.5 875.7 L494.2 869.8 L493.9 863.8 L493.5 857.8 L493.0 851.9 L492.5 845.9 L492.0 840.0 L491.4 834.0 L490.7 828.1 L490.1 822.1 L489.3 816.2 L488.5 810.3 L487.7 804.4 L486.9 798.4 L486.1 792.5 L485.3 786.6 L484.5 780.6 L483.7 774.7 L482.6 768.8 L481.4 763.0 L480.2 757.1 L478.9 751.3 L477.5 745.5"/>
<path class="rb" d="M476.1 739.7 L474.6 733.9 L473.0 728.1 L471.4 722.4 L469.6 716.6 L467.6 711.0 L465.5 705.4 L463.3 699.9 L461.0 694.3 L458.7 688.8 L456.2 683.4 L453.4 678.1 L450.7 672.8 L448.0 667.5 L445.2 662.2 L442.3 656.9 L439.3 651.8 L435.9 646.8 L432.3 642.1 L428.4 637.6 L424.3 633.2 L420.2 628.9 L415.9 624.8 L411.6 620.6 L407.2 616.6 L402.8 612.6 L398.1 608.9 L393.2 605.5 L388.2 602.3 L383.1 599.1 L378.0 595.9 L372.9 592.8 L367.7 589.8 L362.5 586.9 L357.2 584.2 L351.7 582.1 L349.1 580.5 L346.5 578.9 L343.9 577.4 L341.3 575.8 L338.7 574.3 L336.0 572.8 L333.3 571.4 L330.6 570.0 L327.9 568.7 L325.2 567.5 L322.4 566.4 L319.6 565.4 L316.8 564.5 L313.9 563.8 L311.1 563.3 L308.2 563.1 L305.3 563.0 L302.4 563.3 L299.7 564.0 L297.0 565.1 L294.6 566.7 L292.6 568.9 L291.4 571.7 L290.4 574.6 L290.5 577.9 L290.7 581.3 L291.3 584.6 L292.3 587.8 L293.6 590.9 L295.1 593.9 L296.8 596.8"/>
<path class="rb" style="stroke:#444;stroke-width:0.58" stroke-dasharray="9 2.2 6 2" stroke-dashoffset="16.5" d="M490.4 887.4 L490.4 881.9 L490.2 876.0 L490.0 870.2 L489.7 864.3 L489.3 858.4 L488.9 852.6 L488.4 846.7 L487.9 840.9 L487.4 835.0 L486.8 829.2 L486.2 823.4 L485.5 817.5 L484.8 811.7 L484.0 805.9 L483.3 800.1 L482.5 794.3 L481.8 788.4 L481.0 782.6 L480.2 776.8 L479.2 771.0 L478.0 765.3 L476.8 759.5 L475.5 753.8 L474.2 748.1 L472.8 742.4"/>
<path class="rb" d="M471.4 736.7 L469.8 731.0 L468.2 725.4 L466.5 719.8 L464.7 714.2 L462.7 708.7 L460.5 703.2 L458.4 697.8 L456.0 692.4 L453.5 687.1 L450.8 681.9 L448.1 676.7 L445.4 671.4 L442.8 666.2 L440.0 661.0 L437.1 656.0 L433.8 651.1 L430.3 646.4 L426.5 641.9 L422.6 637.6 L418.7 633.2 L414.5 629.1 L410.4 625.0 L406.1 620.9 L401.8 617.0 L397.3 613.3 L392.5 609.9 L387.5 606.7 L382.6 603.6 L377.6 600.4 L372.6 597.4 L367.5 594.4 L362.4 591.5 L357.2 588.8 L351.7 586.9 L349.3 585.3 L346.8 583.8 L344.3 582.2 L341.8 580.7 L339.3 579.2 L336.8 577.7 L334.3 576.3 L331.7 574.9 L329.1 573.6 L326.5 572.3 L323.9 571.1 L321.2 570.0 L318.6 569.0 L315.9 568.2 L313.1 567.5 L310.4 567.1 L307.6 566.8 L304.8 566.9 L302.1 567.3 L299.5 568.2 L297.0 569.6 L295.0 571.7 L293.8 574.3 L292.8 577.1"/>
<path class="rb" style="stroke:#444;stroke-width:0.58" stroke-dasharray="6 2 8 2.5" stroke-dashoffset="19.8" d="M486.5 887.5 L486.1 882.1 L485.9 876.3 L485.7 870.6 L485.5 864.8 L485.1 859.1 L484.8 853.3 L484.4 847.6 L483.9 841.8 L483.4 836.1 L482.9 830.3 L482.3 824.6 L481.7 818.9 L481.1 813.2 L480.4 807.5 L479.7 801.7 L479.0 796.0 L478.3 790.3 L477.5 784.6 L476.7 778.9 L475.7 773.2 L474.6 767.6 L473.4 761.9 L472.1 756.3 L470.9 750.7 L469.5 745.1"/>
<path class="rb" d="M468.1 739.5 L466.7 733.9 L465.1 728.4 L463.5 722.9 L461.7 717.4 L459.8 712.0 L457.8 706.6 L455.7 701.2 L453.4 695.9 L450.8 690.8 L448.1 685.7 L445.5 680.6 L442.9 675.4 L440.4 670.3 L437.7 665.1 L434.9 660.1 L431.7 655.3 L428.3 650.7 L424.6 646.3 L420.9 641.9 L417.1 637.6 L413.1 633.4 L409.1 629.3 L405.0 625.3 L400.8 621.4 L396.4 617.7 L391.8 614.3 L386.9 611.2 L382.1 608.1 L377.2 605.0 L372.3 602.0 L367.3 599.0 L362.3 596.2 L357.3 593.5 L351.8 591.7 L349.5 590.1 L347.1 588.6 L344.8 587.1 L342.4 585.5 L340.0 584.0 L337.6 582.6 L335.2 581.2 L332.8 579.8 L330.3 578.4 L327.9 577.1 L325.4 575.8 L322.9 574.6 L320.3 573.5 L317.8 572.6 L315.2 571.7 L312.5 571.1 L309.9 570.7 L307.2 570.5 L304.5 570.6 L301.9 571.3 L299.5 572.5 L297.5 574.4 L296.2 576.9 L295.2 579.6"/>
<path class="rb" style="stroke:#444;stroke-width:0.58" stroke-dasharray="8 2.4 5 2" stroke-dashoffset="23.1" d="M482.7 887.6 L481.9 882.2 L481.7 876.6 L481.5 870.9 L481.3 865.3 L481.0 859.7 L480.6 854.0 L480.3 848.4 L479.9 842.7 L479.5 837.1 L479.0 831.5 L478.5 825.9 L478.0 820.2 L477.4 814.6 L476.8 809.0 L476.1 803.4 L475.4 797.8 L474.7 792.2 L474.0 786.6 L473.2 781.0 L472.2 775.4 L471.1 769.9 L470.0 764.3 L468.8 758.8 L467.5 753.3 L466.3 747.8 L464.9 742.3"/>
<path class="rb" d="M463.5 736.9 L462.0 731.4 L460.4 726.0 L458.8 720.6 L457.0 715.2 L455.1 709.9 L453.0 704.7 L450.7 699.5 L448.2 694.5 L445.5 689.5 L442.9 684.5 L440.4 679.4 L438.0 674.3 L435.5 669.2 L432.7 664.3 L429.6 659.6 L426.3 655.0 L422.8 650.6 L419.2 646.3 L415.5 642.0 L411.8 637.8 L407.9 633.7 L403.9 629.6 L399.9 625.7 L395.6 622.0 L391.0 618.7 L386.3 615.7 L381.5 612.6 L376.8 609.6 L372.0 606.6 L367.1 603.7 L362.2 600.8 L357.3 598.1 L351.9 596.5 L349.7 595.0 L347.4 593.4 L345.2 591.9 L343.0 590.4 L340.7 588.9 L338.4 587.5 L336.1 586.0 L333.8 584.6 L331.5 583.2 L329.2 581.8 L326.9 580.5 L324.5 579.2 L322.1 578.0 L319.7 576.9 L317.2 576.0 L314.7 575.1 L312.2 574.5 L309.6 574.1 L306.9 574.0 L304.4 574.4 L301.9 575.4 L299.9 577.1 L298.6 579.5 L297.7 582.0"/>
<path class="rb" d="M339.9 593.7 L337.9 592.3 L335.8 590.9 L333.8 589.6 L331.7 588.2 L329.6 586.9 L327.5 585.7 L325.3 584.5 L323.1 583.4 L320.8 582.5 L318.5 581.8 L316.0 581.4 L313.6 581.4 L311.2 582.2 L309.3 583.7 L308.2 585.8 L307.5 588.2 L307.3 590.7 L307.5 593.1 L308.1 595.5 L308.9 597.8 L309.9 600.1 L311.0 602.3 L312.3 604.4 L313.7 606.4 L315.2 608.4 L316.8 610.3 L318.4 612.1 L320.1 613.9 L321.8 615.7 L323.7 617.3 L325.5 618.9 L327.4 620.5 L329.3 622.1 L331.2 623.7"/>
<path class="rb" d="M341.9 595.1 L340.2 593.9 L338.5 592.8 L336.7 591.6 L335.0 590.5 L333.3 589.4 L331.5 588.3 L329.7 587.4 L327.8 586.5 L325.9 585.7 L323.9 585.1 L321.9 584.7 L319.8 584.8 L317.9 585.4 L316.3 586.7 L315.3 588.5 L314.8 590.5 L314.6 592.6 L314.7 594.6 L315.2 596.6 L315.9 598.6 L316.7 600.4 L317.7 602.3 L318.8 604.0 L320.0 605.7 L321.2 607.4 L322.5 608.9 L323.9 610.5 L325.3 612.0 L326.8 613.5 L328.3 614.9 L329.8 616.2 L331.4 617.6 L333.0 618.9 L334.6 620.2"/>
<path class="rb" d="M343.9 596.4 L342.5 595.5 L341.1 594.6 L339.7 593.7 L338.3 592.8 L336.9 591.9 L335.5 591.0 L334.0 590.2 L332.5 589.5 L331.0 588.9 L329.4 588.4 L327.7 588.1 L326.1 588.2 L324.5 588.7 L323.2 589.7 L322.4 591.2 L322.0 592.8 L321.8 594.4 L322.0 596.1 L322.4 597.7 L322.9 599.3 L323.6 600.8 L324.4 602.3 L325.2 603.7 L326.2 605.0 L327.2 606.4 L328.3 607.6 L329.4 608.9 L330.5 610.1 L331.7 611.3 L332.9 612.4 L334.1 613.5 L335.4 614.6 L336.7 615.6 L338.0 616.7"/>
<path class="rb" d="M345.8 597.8 L344.8 597.1 L343.7 596.4 L342.7 595.7 L341.6 595.1 L340.5 594.4 L339.5 593.7 L338.4 593.1 L337.2 592.6 L336.0 592.1 L334.8 591.8 L333.6 591.5 L332.3 591.6 L331.1 592.0 L330.2 592.7 L329.6 593.8 L329.3 595.1 L329.1 596.3 L329.2 597.6 L329.5 598.8 L330.0 600.0 L330.4 601.1 L331.0 602.2 L331.7 603.3 L332.4 604.4 L333.2 605.3 L334.0 606.3 L334.8 607.3 L335.7 608.2 L336.6 609.1 L337.5 609.9 L338.5 610.8 L339.4 611.6 L340.4 612.4 L341.4 613.2"/>
<path class="rb" d="M347.8 599.2 L347.1 598.7 L346.4 598.3 L345.6 597.8 L344.9 597.3 L344.2 596.9 L343.5 596.4 L342.7 596.0 L341.9 595.6 L341.1 595.3 L340.3 595.1 L339.5 594.9 L338.6 594.9 L337.8 595.2 L337.1 595.7 L336.7 596.5 L336.5 597.3 L336.4 598.2 L336.5 599.0 L336.7 599.9 L337.0 600.7 L337.3 601.5 L337.7 602.2 L338.2 603.0 L338.7 603.7 L339.2 604.3 L339.7 605.0 L340.3 605.7 L340.9 606.3 L341.5 606.9 L342.1 607.5 L342.8 608.0 L343.4 608.6 L344.1 609.1 L344.7 609.7"/>
<path class="rb" d="M349.6 600.5 L349.2 600.2 L348.8 600.0 L348.4 599.7 L348.0 599.4 L347.6 599.2 L347.2 598.9 L346.7 598.7 L346.3 598.5 L345.8 598.3 L345.4 598.2 L344.9 598.1 L344.4 598.1 L343.9 598.2 L343.6 598.5 L343.3 599.0 L343.2 599.4 L343.2 599.9 L343.2 600.4 L343.3 600.9 L343.5 601.3 L343.7 601.8 L343.9 602.2 L344.2 602.6 L344.4 603.0 L344.7 603.4 L345.0 603.8 L345.4 604.2 L345.7 604.5 L346.0 604.9 L346.4 605.2 L346.8 605.5 L347.1 605.8 L347.5 606.1 L347.9 606.5"/>
<path class="k" style="stroke-width:1.9" d="M278.6 562.3 L279.9 557.7 L281.9 553.4 L285.1 549.8 L288.8 546.8 L293.0 544.7 L297.6 543.3 L302.3 542.6 L307.0 542.4 L311.8 542.7 L316.5 543.5 L321.1 544.7 L325.6 546.3 L330.0 548.1 L334.4 550.0 L338.7 552.0 L343.0 554.2 L347.2 556.4 L351.5 558.5 L355.8 560.6 L360.0 562.7 L364.3 564.8 L368.5 567.0 L372.7 569.3 L376.9 571.6 L381.0 574.0 L385.1 576.5 L389.2 579.0 L393.2 581.6 L397.2 584.2 L401.2 586.8 L405.1 589.5 L408.9 592.3 L412.7 595.2 L416.4 598.2 L420.1 601.3 L423.8 604.3 L427.6 607.2 L431.1 610.4 L434.6 613.6 L438.1 616.9 L441.5 620.3 L444.6 623.9 L447.4 627.7 L450.2 631.6 L452.8 635.6 L455.3 639.7 L457.8 643.7 L460.2 647.8 L462.5 652.0 L464.8 656.2 L466.9 660.5 L469.0 664.8 L470.9 669.1 L472.6 673.6 L474.4 678.0 L476.2 682.4 L478.2 686.8 L480.2 691.1 L482.1 695.4 L484.0 699.9 L485.6 704.3 L487.1 708.9 L488.5 713.4 L489.8 718.0 L491.1 722.6 L492.4 727.2 L493.6 731.8 L494.7 736.4 L495.9 741.1 L497.0 745.7 L498.0 750.4 L499.0 755.0 L499.9 759.7 L500.7 764.4 L501.5 769.1 L502.1 773.9 L502.8 778.6 L503.4 783.3 L504.1 788.0 L504.9 792.7 L505.7 797.4 L506.6 802.1 L507.5 806.8 L508.3 811.5 L509.0 816.2 L509.7 820.9 L510.4 825.7 L511.1 830.4 L511.7 835.1 L512.3 839.8 L512.8 844.6 L513.4 849.3 L513.8 854.1 L514.3 858.8 L514.7 863.6 L515.1 868.3 L515.4 873.1 L515.7 877.8 L515.3 882.6 L513.3 886.9"/>
<path class="k" style="stroke-width:1.9" d="M278.6 562.3 L278.9 565.1 L279.1 567.9 L279.5 570.7 L280.1 573.5 L280.9 576.2 L281.8 578.8 L282.9 581.4 L284.2 584.0 L285.5 586.4 L287.0 588.8 L288.6 591.1 L290.3 593.4 L292.1 595.6 L293.9 597.7 L295.8 599.9 L297.7 601.9 L299.6 604.0 L301.6 606.0 L303.7 607.9 L305.7 609.9 L307.7 611.8 L309.8 613.7 L311.9 615.6 L314.0 617.5 L316.1 619.3 L318.3 621.2 L320.5 622.9 L322.9 624.5 L325.3 625.9 L327.8 627.2 L333.3 626.4"/>
<path class="k" d="M352.0 602.2 L349.7 600.5 L347.4 598.8 L345.0 597.2 L342.7 595.5 L340.3 593.9 L338.0 592.3 L335.6 590.7 L333.2 589.1 L330.8 587.5 L328.4 586.0 L326.0 584.4 L323.5 583.0 L321.0 581.6 L318.4 580.3 L315.7 579.3 L313.0 578.5 L310.2 578.0 L307.3 578.0 L304.6 578.9 L302.4 580.7 L301.0 583.2 L300.3 586.0 L300.0 588.8 L300.3 591.6 L301.0 594.4 L301.9 597.1 L303.0 599.8 L304.3 602.3 L305.9 604.7 L307.5 607.1 L309.3 609.4 L311.1 611.6 L313.0 613.7 L314.9 615.8 L316.9 617.9 L319.0 619.8 L321.2 621.7 L323.4 623.5 L325.6 625.4 L327.8 627.2"/>
<path class="k" d="M333.3 626.4 L333.7 625.6 L334.3 624.6 L334.9 623.3 L335.6 621.9 L336.4 620.4 L337.2 619.0 L338.0 617.5 L338.8 616.2 L339.5 615.0 L340.2 613.7 L341.0 612.5 L341.8 611.2 L342.6 610.0 L343.4 608.9 L344.2 607.8 L345.0 606.9 L345.9 606.1 L346.9 605.3 L347.9 604.6 L348.9 604.0 L349.9 603.4 L350.7 602.9 L351.5 602.5 L352.0 602.2"/>
<path class="k1" d="M334.8 628 L340.5 617.8 L346.8 609 L353.6 603.8"/>
<path class="k" d="M352.0 602.2 L356.0 603.1 L359.7 604.9 L363.3 607.0 L366.9 609.1 L370.4 611.3 L373.9 613.5 L377.4 615.7 L380.9 617.9 L384.4 620.2 L387.9 622.4 L391.3 624.7 L394.6 627.2 L397.7 629.9 L400.7 632.8 L403.6 635.8 L406.4 638.8 L409.2 641.9 L411.9 645.0 L414.6 648.2 L417.1 651.4 L419.7 654.7 L422.2 657.9 L424.8 661.2 L427.2 664.6 L429.4 668.1 L431.5 671.6 L433.4 675.3 L435.1 679.1 L436.9 682.8 L438.6 686.6 L440.5 690.3 L442.4 694.0 L444.4 697.6 L446.3 701.2 L448.2 704.9 L449.9 708.7 L451.4 712.6 L452.8 716.5 L454.0 720.4 L455.3 724.4 L456.4 728.3 L457.6 732.3 L458.7 736.3 L459.7 740.3 L460.8 744.3 L461.8 748.3 L462.7 752.4 L463.6 756.4 L464.5 760.4 L465.4 764.5 L466.2 768.5 L467.1 772.6 L467.9 776.7 L468.6 780.7 L469.3 784.8 L469.9 788.9 L470.4 793.0 L470.9 797.1 L471.4 801.2 L471.9 805.4 L472.3 809.5 L472.7 813.6 L473.1 817.7 L473.5 821.8 L473.8 826.0 L474.1 830.1 L474.5 834.2 L474.8 838.3 L475.1 842.5 L475.3 846.6 L475.6 850.7 L475.8 854.9 L476.0 859.0 L476.2 863.1 L476.3 867.3 L476.5 871.4 L476.6 875.6 L476.7 879.7 L476.9 883.8 L478.1 887.7"/>
<path class="k" style="stroke-width:3.6" d="M352.0 602.2 L354.5 602.6 L356.8 603.5 L359.1 604.6 L361.3 605.8 L363.4 607.0 L365.6 608.3 L367.7 609.6 L369.9 610.9 L372.0 612.2 L374.1 613.6 L376.3 614.9 L378.4 616.3 L380.5 617.7 L382.6 619.0 L384.6 620.4 L386.7 621.8 L388.8 623.2 L390.9 624.7 L392.9 626.1 L395.0 627.5"/>
<path class="k" style="stroke-width:2.2" d="M478.1 887.7 C487 893 502 893.5 513.3 886.9"/>
</g>
<g id="bushing" transform="translate(695,685) scale(0.06883)">
<!-- body white with outline -->
<path fill="#fff" stroke="#000" stroke-width="1.5" stroke-linejoin="round" d="M150 235 C165 205 180 188 200 175 C225 158 250 150 270 150 L590 320 L740 340 L600 795 L470 720 L420 650 L130 460 C105 440 95 400 100 360 C105 310 125 270 150 235Z"/>
<!-- black lower half -->
<path class="f" d="M148 240 L330 358 L462 445 C490 415 515 400 540 398 C560 420 570 440 575 455 C545 500 520 560 510 620 C502 680 515 730 540 762 L470 720 L420 650 L130 460 C105 440 95 400 100 360 C105 310 125 275 148 240Z"/>
<path fill="none" stroke="#fff" stroke-width="0.7" d="M402 560 L410 622"/>
<!-- flange face -->
<ellipse cx="668" cy="562" rx="148" ry="238" transform="rotate(24 668 562)" fill="#fff" stroke="#000" stroke-width="1.6"/>
<path class="k1" style="stroke-width:1.2" d="M590 320 C620 300 660 290 700 300 C720 310 735 322 745 338"/>
<path class="k1" style="stroke-width:1" d="M575 455 C610 410 670 360 730 345"/>
<!-- hole -->
<path class="f" d="M600 610 C598 570 625 520 665 495 C700 478 735 485 745 520 C752 550 750 575 745 590 C735 580 715 572 690 572 C660 575 640 600 632 645 C615 640 603 628 600 610Z"/>
<path class="k1" style="stroke-width:1.3" d="M600 610 C605 650 640 690 685 665 M690 572 C720 572 740 585 730 620"/>
</g>
<g id="oring" transform="translate(630,690) scale(0.15625)">
<ellipse cx="248" cy="368" rx="128" ry="166" transform="rotate(22 248 368)" class="k" style="stroke-width:2.6"/>
<!-- chain -->
<path d="M272 385 C230 370 185 390 168 440 C152 490 165 545 212 578" fill="none" stroke="#000" stroke-width="2.8" stroke-linecap="round"/>
<path d="M272 385 C230 370 185 390 168 440 C152 490 165 545 212 578" fill="none" stroke="#fff" stroke-width="1.5" stroke-dasharray="0.1 2.4" stroke-linecap="round"/>
<!-- pin -->
<path class="w1" style="stroke-width:1.4" d="M282 392 C290 385 300 385 308 390 L350 415 C358 425 355 440 345 445 L290 420 C280 412 278 400 282 392Z"/>
</g>
<g id="cap" transform="translate(670,735) scale(0.08815)">
<path class="f" d="M105 470 C105 440 110 415 120 390 C135 345 160 300 190 260 C220 220 250 185 290 150 C325 125 360 105 400 95 C440 85 480 82 520 85 C550 90 575 102 600 120 C635 140 665 160 690 180 C710 205 722 235 730 270 L740 300 L780 300 L830 350 C842 375 845 400 840 420 L820 470 L760 505 L710 505 L700 540 L640 590 L600 680 C575 705 550 725 520 740 C480 760 440 775 400 780 C380 782 360 778 340 770 L290 730 C255 720 225 708 200 690 C180 670 165 645 150 620 C130 595 115 570 110 540 Z"/>
<path fill="none" stroke="#fff" stroke-width="0.9" d="M130 450 C135 400 150 360 175 315 C210 250 270 180 340 132 M165 480 C170 430 185 390 210 345 C250 280 315 200 392 150"/>
<path fill="#fff" stroke="none" d="M222 570 C215 520 220 470 235 425 C255 370 290 315 335 270 C390 215 460 170 530 155 C570 148 605 150 630 165 C665 185 695 215 712 250 L725 290 L690 325 L655 305 L650 250 L625 235 L520 230 L480 250 L330 410 L330 450 L270 540 L258 600 Z"/>
<path fill="none" stroke="#000" stroke-width="0.9" d="M238 585 C232 520 240 470 255 430 C280 370 320 310 375 260 C425 215 480 180 530 168"/>
<path fill="none" stroke="#fff" stroke-width="1.1" stroke-linecap="round" d="M540 355 L590 340 L700 400 L720 440 L725 472 M742 400 L818 366 M340 545 L390 580 L400 688 M290 632 L385 592"/>
<path fill="none" stroke="#fff" stroke-width="0.8" stroke-linecap="round" d="M360 462 L420 436 M500 526 L620 472"/>
<path fill="none" stroke="#fff" stroke-width="0.8" d="M335 748 C370 775 430 772 500 730 C550 700 600 640 630 575"/>
<path fill="#fff" d="M335 748 C350 770 380 778 402 772 C385 762 360 752 335 748Z"/>
</g>
<g id="retainer" transform="translate(590,740) scale(0.09785)">
<path fill="#fff" stroke="#000" stroke-width="1.35" stroke-linejoin="round" d="M100 545 L470 465 L545 490 L600 448 L660 420 L700 405 L722 375 L745 405 L722 440 L692 478 L655 510 L662 545 L695 550 L708 840 L665 845 L650 600 L440 528 L100 597 Z"/>
<path class="t" style="stroke:#888;stroke-width:0.6" d="M110 572 L440 500 L640 575 M680 560 L688 835"/>
<circle cx="70" cy="572" r="33" fill="#fff" stroke="#000" stroke-width="1.3"/>
<circle cx="680" cy="875" r="36" fill="#fff" stroke="#000" stroke-width="1.3"/>
</g>
<g id="pins" transform="translate(550,180) scale(0.17578)">
<!-- pin1 -->
<path class="w1" d="M55 100 L255 225 C268 232 268 255 250 264 L42 132 C32 120 40 100 55 100Z"/>
<path class="k" style="stroke-width:1.8" d="M44 130 L248 262"/>
<path class="k1" d="M240 225 C232 238 235 255 246 262 M175 180 L185 196"/>
<path class="t" d="M150 165 L230 215"/>
<path class="k1" style="stroke-width:0.8" stroke-dasharray="7 2.5 2 2.5" d="M268 256 L355 306"/>
<!-- pin2 -->
<path class="w1" d="M135 620 L345 740 C362 748 362 782 338 792 L115 655 C105 640 118 618 135 620Z"/>
<path class="k" style="stroke-width:2" d="M117 655 L335 790"/>
<path class="k1" d="M328 742 C318 758 322 782 334 790"/>
<path class="t" d="M180 680 L300 745"/>
<path class="k1" style="stroke-width:0.8" d="M366 776 L465 840"/>
</g>
<g id="locklever" transform="translate(612,220) scale(0.117188)">
<path class="f" d="M45 130 L200 100 L480 72 L860 55 C900 60 945 90 958 120 L955 215 C940 240 880 255 820 258 L480 215 L345 200 C325 205 318 215 320 228 L400 290 L480 365 C500 385 510 400 508 410 L490 430 L505 470 L500 492 L478 492 L430 440 L380 415 L340 395 L350 375 L260 300 L150 290 L100 255 L60 215 Z"/>
<path fill="#fff" d="M52 133 L200 105 L480 78 L860 61 C885 66 920 82 940 102 L820 100 L600 118 L380 140 L200 152 L130 160 L100 180 L96 236 L63 212 Z"/>
<ellipse cx="130" cy="188" rx="11" ry="9" fill="#fff"/>
<ellipse cx="205" cy="185" rx="6" ry="4" fill="#ddd"/>
<path fill="#fff" d="M348 383 L396 380 L392 394 L352 398Z"/>
<path fill="none" stroke="#000" stroke-width="0.6" d="M330 128 L620 104"/>
</g>
<g id="trig" transform="translate(620,270) scale(0.09792)">
<path class="f" d="M280 112 L320 100 L435 160 L560 190 C620 220 680 265 710 300 C735 340 748 400 745 460 C742 540 725 620 700 700 L640 900 C625 935 610 950 595 950 L545 930 C530 915 522 895 520 870 L400 760 L345 790 L300 790 L250 770 C200 745 150 700 130 650 C125 630 128 610 135 595 L270 440 L280 380 L265 350 Z"/>
<path fill="#fff" stroke="none" d="M293 122 L320 112 L400 155 L390 400 L365 410 L355 480 L330 530 L300 570 L340 600 L360 660 L345 760 L300 775 L260 755 L215 665 L160 640 L142 620 L152 597 L287 447 L295 380 L280 350 Z"/>
<path class="t" style="stroke:#000;stroke-width:0.7" d="M300 132 L395 178"/>
<path fill="none" stroke="#fff" stroke-width="1" d="M438 176 L432 440"/>
<ellipse cx="426" cy="470" rx="27" ry="40" fill="#fff"/>
<ellipse cx="312" cy="700" rx="52" ry="67" fill="#fff" stroke="#000" stroke-width="1.2" transform="rotate(15 312 700)"/>
<ellipse cx="306" cy="716" rx="21" ry="28" fill="#fff" stroke="#000" stroke-width="1.5" transform="rotate(15 306 716)"/>
<path class="f" d="M288 705 C290 690 305 685 320 692 C310 698 300 712 300 730 C292 725 288 715 288 705Z"/>
<path class="k1" style="stroke-width:0.8" d="M215 665 L245 625 L290 590"/>
<path fill="none" stroke="#fff" stroke-width="0.8" d="M398 742 L545 830 M566 860 L572 905"/>
</g>
<g id="spring" transform="translate(630,250) scale(0.15625)">
<path class="k1" style="stroke-width:1.3" d="M782 70 L702 114 C692 120 690 128 686 140 L622 285 C616 300 620 312 632 320 L652 332 C662 340 664 350 658 365 L522 668"/>
<path class="k1" style="stroke-width:1.3" d="M500 692 C492 675 495 660 510 655 C535 655 560 670 566 695 C572 730 568 770 555 810"/>
<ellipse cx="512" cy="800" rx="40" ry="66" transform="rotate(22 512 800)" class="k1" style="stroke-width:1.3"/>
<ellipse cx="518" cy="796" rx="36" ry="60" transform="rotate(22 518 796)" class="k1" style="stroke-width:0.9"/>
<path class="k1" style="stroke-width:0.8" d="M350 705 L460 770 M520 800 L575 836"/>
</g>
<g id="needle" transform="translate(350,440) scale(0.15625)">
<circle cx="95" cy="175" r="34" fill="none" stroke="#aaa" stroke-width="0.8" stroke-dasharray="1.2 1"/>
<!-- needle shaft -->
<path class="w1" d="M470 345 L885 596 C895 605 888 622 872 622 L445 392 Z"/>
<path class="k" style="stroke-width:2.2" d="M447 390 L870 620"/>
<ellipse cx="877" cy="608" rx="9" ry="13" class="w1" transform="rotate(-30 877 608)"/>
<path class="k1" style="stroke-width:0.8" d="M890 620 L956 659"/>
</g>
<g id="needlehead" transform="translate(368,462) scale(0.06836)">
<!-- body -->
<path fill="#fff" stroke="none" d="M440 195 L660 350 L800 440 L740 590 L590 510 L315 400 L330 260 Z"/>
<path class="k" style="stroke-width:1.6" d="M450 215 L660 352 L800 440"/>
<path class="f" d="M318 345 L590 480 L600 440 C610 410 625 385 645 368 L660 380 C640 400 625 440 622 490 L720 545 L735 590 L590 512 L315 402 Z"/>
<path class="t" style="stroke:#666;stroke-width:1" d="M742 422 C715 450 695 500 700 560"/>
<!-- threaded head -->
<path fill="#fff" stroke="#000" stroke-width="1.4" stroke-linejoin="round" d="M220 75 L440 190 C390 200 340 250 320 320 C312 350 312 380 315 402 L100 290 C85 270 85 240 92 215 C105 160 140 100 185 80 C198 75 210 73 220 75Z"/>
<path class="f" d="M92 215 C85 240 85 270 100 290 L315 402 C312 375 312 350 318 325 L290 275 L150 205 C140 225 135 255 140 285 C125 265 118 235 122 205 C128 165 150 120 185 92 C140 110 105 160 92 215Z"/>
<path fill="none" stroke="#bbb" stroke-width="0.8" d="M175 225 L165 295 M205 240 L195 312 M235 255 L228 328 M265 270 L260 345"/>
<path fill="none" stroke="#999" stroke-width="0.7" d="M215 92 C195 115 180 150 178 190 M250 110 C230 135 215 170 213 208 M285 128 C265 152 250 188 248 225 M320 146 C300 170 286 205 284 242 M355 165 C336 188 322 222 320 258 M390 184 C372 205 358 238 355 272"/>
</g>
<g id="screw16">
<path class="t" d="M417.7 921 L417.7 928"/>
<path class="w1" style="stroke-width:1.4" d="M417.7 928.2 L421.5 932.5 L422.6 949 L413.6 949 L414.2 932.5 Z"/>
<path class="k1" style="stroke-width:1.2" d="M414.2 933.5 L421.8 931.8 M413.9 937.3 L422.2 935.4 M413.8 941.1 L422.4 939.2 M413.7 944.9 L422.5 943 M413.6 948.5 L422.6 946.7"/>
<ellipse cx="418.2" cy="953.6" rx="7.6" ry="5.9" class="w" style="stroke-width:1.7"/>
<path class="k1" d="M412 951.5 C414 955.5 422 955.5 425 951.8"/>
<path class="f" d="M411.3 954.5 C411.8 958 414.5 959.5 417 959.3 C416 957 414 955 411.3 954.5Z"/>
</g>

</g>
<!-- LEADERS -->
<g id="leaders" class="ld">
<path d="M376 108.5H412.5L468 145"/>
<path d="M552 116.3H532.5L480.5 188"/>
<path d="M677 146.5H634.5L578 207"/>
<path d="M741 189.5H687.5L666 230"/>
<path d="M361 283.8H398.8L440.5 319"/>
<path d="M499 377H541L592.5 309"/>
<path d="M558 400.5H585L638.8 343.8"/>
<path d="M787.5 420H743.8L712.5 385.5"/>
<path d="M474 436.3H430L366 461.5M430 436.3L403.5 478"/>
<path d="M494 504H514L540 556"/>
<path d="M816 487H791.3L786.3 565"/>
<path d="M260 501.8H285.8L300 542.5"/>
<path d="M808 642.5H783.8V677H808M783.8 661.3H751.3L732 704.5"/>
<path d="M331 686.4H405L416.8 692.8"/>
<path d="M311 720.3H352L363.6 712"/>
<path d="M721 874H696L670.2 772.3"/>
<path d="M718 891H686L657 828"/>
<path d="M813 847H840V910H813M840 870H872V942H855M832 860H713L703 800"/>
<path d="M286.5 974.3H325L410 954.5"/>
</g>
</svg>
</body></html>
